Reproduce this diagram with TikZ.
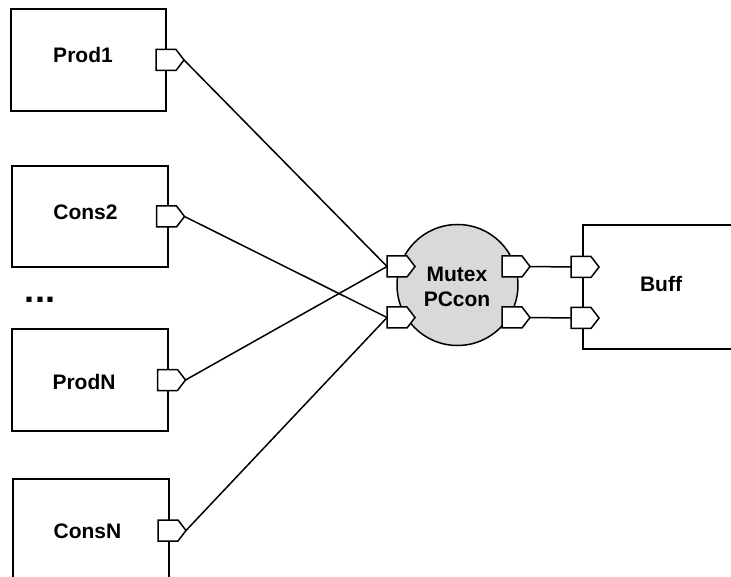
\documentclass[tikz,border=0pt]{standalone}
\usepackage{fontspec}
\setmainfont{Liberation Sans}
\usetikzlibrary{shapes.symbols}
\definecolor{mutexgray}{RGB}{217,217,217}
\tikzset{
  box/.style={draw, line width=2pt, fill=white, inner sep=0pt},
  port/.style={signal, signal to=east, signal pointer angle=105, draw, fill=white,
    line width=1.5pt, minimum width=28pt, minimum height=21pt, inner sep=0pt, outer sep=0pt},
  lbl/.style={font=\fontsize{21}{25}\selectfont\bfseries, inner sep=0pt, align=center},
  wire/.style={line width=1.5pt}
}
\begin{document}
\begin{tikzpicture}[x=1pt, y=-1pt]
\useasboundingbox (0,0) rectangle (731,577);
\clip (0,0) rectangle (731,577);
% boxes
\node[box, minimum width=155pt, minimum height=102pt] (prod1) at (88.5,60) {};
\node[box, minimum width=156pt, minimum height=101pt] (cons2) at (90,216.5) {};
\node[box, minimum width=156pt, minimum height=102pt] (prodn) at (90,380) {};
\node[box, minimum width=156pt, minimum height=110pt] (consn) at (91,534) {};
\node[box, minimum width=160pt, minimum height=124pt] (buff) at (663,287) {};
\node[draw, circle, line width=1.5pt, fill=mutexgray, minimum size=121pt, inner sep=0pt] (mutex) at (457.5,285) {};
% labels
\node[lbl] (tprod1) at (83,55) {Prod1};
\node[lbl] (tcons2) at (85.5,212) {Cons2};
\node[lbl] (tprodn) at (84,382) {ProdN};
\node[lbl] (tconsn) at (87.5,531) {ConsN};
\node[lbl] (tbuff) at (661,284) {Buff};
\node[lbl] (tmutex) at (457,286.5) {Mutex\\PCcon};
\node[font=\fontsize{36}{40}\selectfont\bfseries, inner sep=0pt, anchor=base] (dots) at (40,303) {...};
% ports
\node[port] (p1) at (166,60) {};
\node[port] (c2) at (166.5,216.5) {};
\node[port] (pn) at (167.5,380) {};
\node[port] (cn) at (168,530.5) {};
\node[port] (ml1) at (397,266.5) {};
\node[port] (ml2) at (397,317.5) {};
\node[port] (mr1) at (512,266.5) {};
\node[port] (mr2) at (512,317.5) {};
\node[port] (b1) at (581,267) {};
\node[port] (b2) at (581,318) {};
% wires
\draw[wire] (p1.east) -- (ml1.west);
\draw[wire] (pn.east) -- (ml1.west);
\draw[wire] (c2.east) -- (ml2.west);
\draw[wire] (cn.east) -- (ml2.west);
\draw[wire] (mr1.east) -- (b1.west);
\draw[wire] (mr2.east) -- (b2.west);
\end{tikzpicture}
\end{document}
